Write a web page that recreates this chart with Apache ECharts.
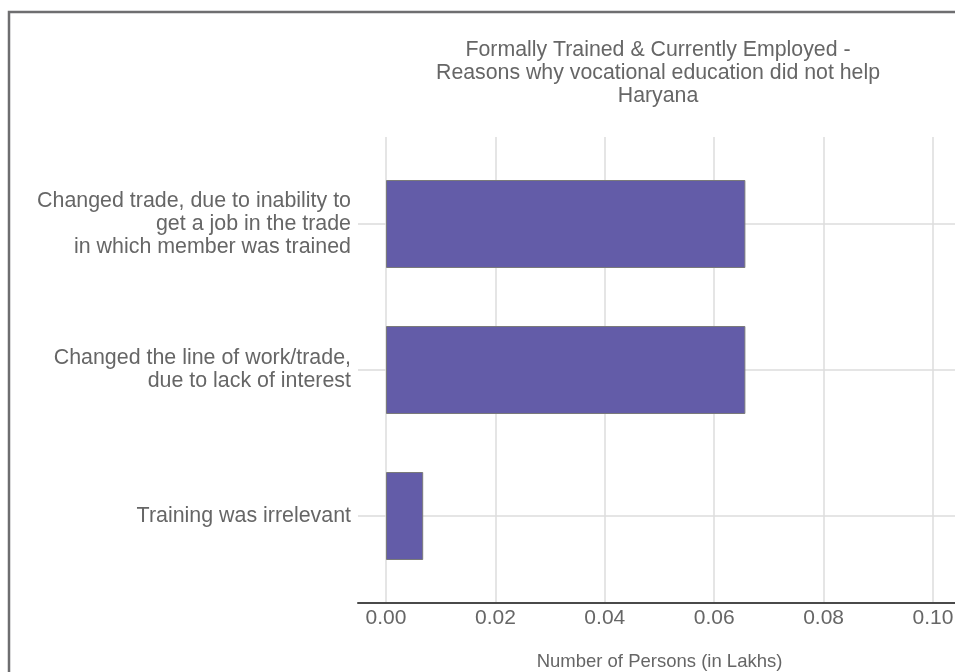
<!DOCTYPE html>
<html>
<head>
<meta charset="utf-8">
<script src="https://cdn.jsdelivr.net/npm/echarts@6/dist/echarts.min.js"></script>
<style>
html,body{margin:0;padding:0;background:#fff;}
#chart{width:955px;height:672px;}
</style>
</head>
<body>
<div id="chart"></div>
<script>
const titleText = "Formally Trained & Currently Employed -\nReasons why vocational education did not help\nHaryana";
const categories = [
  "Changed trade, due to inability to\nget a job in the trade\nin which member was trained",
  "Changed the line of work/trade,\ndue to lack of interest",
  "Training was irrelevant"
];
const values = [0.0657, 0.0657, 0.0068];
const tickValues = [0, 0.02, 0.04, 0.06, 0.08, 0.10];
const xAxisName = "Number of Persons (in Lakhs)";

const FONT = "'Liberation Sans', Arial, sans-serif";
const TXT = '#666666';
const GRIDC = '#dcdcdc';

const chart = echarts.init(document.getElementById('chart'));
chart.setOption({
  animation: false,
  backgroundColor: '#ffffff',
  title: {
    text: titleText,
    left: 658, top: 39, padding: 0,
    textAlign: 'center', textVerticalAlign: 'top',
    textStyle: {color: TXT, fontSize: 21.3, fontWeight: 'normal', fontFamily: FONT, lineHeight: 23}
  },
  graphic: [{
    type: 'rect', silent: true, z: 100,
    shape: {x: 9, y: 12, width: 1000, height: 700},
    style: {fill: 'none', stroke: '#6e6e70', lineWidth: 2.5}
  }],
  grid: [
    {left: 386, right: 0, top: 224, bottom: 156, outerBoundsMode: 'none', containLabel: false},
    {left: 386, right: 22, top: 137, bottom: 69, outerBoundsMode: 'none', containLabel: false},
    {left: 358, right: 0, top: 137, bottom: 69, outerBoundsMode: 'none', containLabel: false}
  ],
  xAxis: [
    {gridIndex: 0, type: 'value', min: 0, max: 0.10402, show: false},
    {gridIndex: 1, type: 'value', min: tickValues[0], max: tickValues[tickValues.length - 1], interval: 0.02,
     axisLine: {show: false}, axisTick: {show: false},
     splitLine: {show: true, lineStyle: {color: GRIDC, width: 1.5}},
     axisLabel: {color: TXT, fontSize: 21, fontFamily: FONT, margin: 5,
                 formatter: v => v.toFixed(2)},
     name: xAxisName, nameLocation: 'middle', nameGap: 49, nameMoveOverlap: false,
     nameTextStyle: {color: TXT, fontSize: 18.5, fontFamily: FONT}},
    {gridIndex: 2, type: 'value', min: 0, max: 1,
     axisLine: {show: true, lineStyle: {color: '#4a4a4a', width: 2}},
     axisTick: {show: false}, axisLabel: {show: false}, splitLine: {show: false}}
  ],
  yAxis: [
    {gridIndex: 0, type: 'category', data: categories, inverse: true, boundaryGap: false,
     axisLine: {show: false},
     axisTick: {show: true, length: 28, lineStyle: {color: GRIDC, width: 1.5}},
     splitLine: {show: true, lineStyle: {color: GRIDC, width: 1.5}},
     axisLabel: {color: TXT, fontSize: 21.4, fontFamily: FONT, margin: 35, lineHeight: 23, align: 'right'}},
    {gridIndex: 1, type: 'value', show: false},
    {gridIndex: 2, type: 'value', show: false}
  ],
  series: [{
    type: 'bar', xAxisIndex: 0, yAxisIndex: 0,
    data: values, barWidth: 88, clip: false,
    itemStyle: {color: '#635ca8', borderColor: '#7a7a7a', borderWidth: 1}
  }]
});
</script>
</body>
</html>
